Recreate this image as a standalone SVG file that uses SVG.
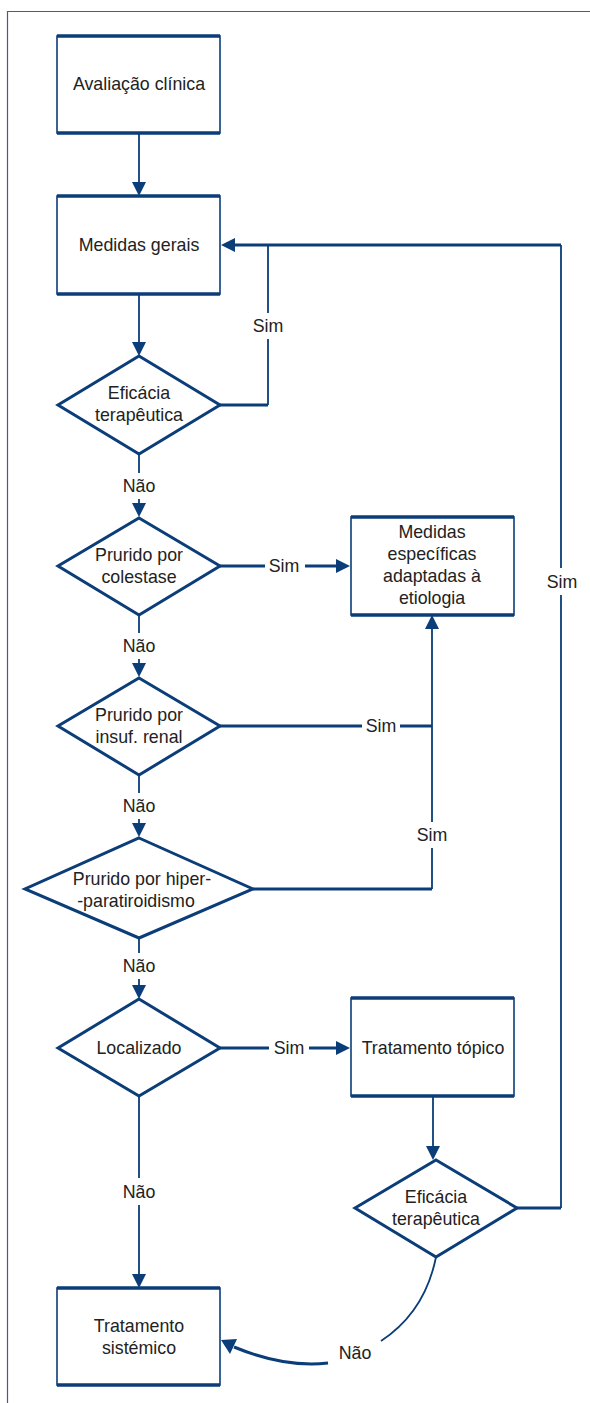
<svg xmlns="http://www.w3.org/2000/svg" width="590" height="1403" viewBox="0 0 590 1403">
<style>
text{font-family:"Liberation Sans",Arial,sans-serif;font-size:17.8px;fill:#222;text-anchor:middle}
.box{fill:#fff;stroke:#0b3d78;stroke-width:1.6}
.edge{stroke:#0b3d78;stroke-width:3.5}
.dia{fill:#fff;stroke:#0b3d78;stroke-width:3;stroke-linejoin:miter}
.thin{fill:none;stroke:#0b3d78;stroke-width:1.8}
.thick{fill:none;stroke:#0b3d78;stroke-width:3}
.ah{fill:#0b3d78}
</style>
<rect width="590" height="1403" fill="#fff"/>
<path d="M7.5,1403 V11.5 H590" fill="none" stroke="#4a5a80" stroke-width="1.2"/>
<g id="connectors">
<path class="thin" d="M139,133 V184"/>
<polygon class="ah" points="132,182 146,182 139,196"/>
<path class="thin" d="M139,294 V343"/>
<polygon class="ah" points="132,342 146,342 139,356"/>
<path class="thick" d="M220,405 H268"/>
<path class="thin" d="M268,405 V339 M268,313 V245"/>
<path class="thick" d="M234,245 H561"/>
<polygon class="ah" points="235,238 235,252 221,245"/>
<path class="thin" d="M139,454 V473 M139,499 V506"/>
<polygon class="ah" points="132,503 146,503 139,517"/>
<path class="thick" d="M220,566 H265 M305,566 H338"/>
<polygon class="ah" points="336,559 336,573 350,566"/>
<path class="thin" d="M139,615 V633 M139,659 V666"/>
<polygon class="ah" points="132,663 146,663 139,677"/>
<path class="thick" d="M220,726 H362 M400,726 H432"/>
<path class="thin" d="M432,629 V822 M432,848 V889"/>
<polygon class="ah" points="425,629 439,629 432,615"/>
<path class="thick" d="M253,889 H432"/>
<path class="thin" d="M139,775 V793 M139,819 V826"/>
<polygon class="ah" points="132,823 146,823 139,837"/>
<path class="thin" d="M139,938 V953 M139,979 V987"/>
<polygon class="ah" points="132,985 146,985 139,999"/>
<path class="thick" d="M220,1048 H269 M309,1048 H338"/>
<polygon class="ah" points="336,1041 336,1055 350,1048"/>
<path class="thin" d="M433,1096 V1148"/>
<polygon class="ah" points="426,1146 440,1146 433,1160"/>
<path class="thick" d="M517,1208 H561"/>
<path class="thin" d="M561,1208 V595 M561,568 V245"/>
<path class="thin" d="M139,1096 V1178 M139,1205 V1276"/>
<polygon class="ah" points="132,1274 146,1274 139,1288"/>
<path class="thin" d="M436,1257 Q425,1312 381,1341"/>
<path class="thick" d="M328,1363 Q285,1368 234,1347"/>
<polygon class="ah" points="221,1340 237,1339 230,1354"/>
<text x="268" y="332">Sim</text>
<text x="139" y="492">Não</text>
<text x="284" y="572">Sim</text>
<text x="139" y="652">Não</text>
<text x="381" y="732">Sim</text>
<text x="139" y="812">Não</text>
<text x="432" y="841">Sim</text>
<text x="139" y="972">Não</text>
<text x="289" y="1054">Sim</text>
<text x="562" y="588">Sim</text>
<text x="139" y="1198">Não</text>
<text x="355" y="1359">Não</text>
</g>
<g id="n1">
<rect class="box" x="57" y="36" width="163" height="97"/>
<path class="edge" d="M57,36 H220 M57,133 H220"/>
<text x="139" y="90">Avaliação clínica</text>
</g>
<g id="n2">
<rect class="box" x="57" y="196" width="163" height="98"/>
<path class="edge" d="M57,196 H220 M57,294 H220"/>
<text x="139" y="251">Medidas gerais</text>
</g>
<g id="n3">
<polygon class="dia" points="139,356 220,405 139,454 58,405"/>
<text x="139" y="399">Eficácia</text>
<text x="139" y="421">terapêutica</text>
</g>
<g id="n4">
<polygon class="dia" points="139,518 220,566 139,615 58,566"/>
<text x="139" y="561">Prurido por</text>
<text x="139" y="583">colestase</text>
</g>
<g id="n5">
<rect class="box" x="351" y="517" width="163" height="98"/>
<path class="edge" d="M351,517 H514 M351,615 H514"/>
<text x="432" y="538">Medidas</text>
<text x="432" y="560">específicas</text>
<text x="432" y="582">adaptadas à</text>
<text x="432" y="604">etiologia</text>
</g>
<g id="n6">
<polygon class="dia" points="139,678 220,726 139,775 58,726"/>
<text x="139" y="721">Prurido por</text>
<text x="139" y="743">insuf. renal</text>
</g>
<g id="n7">
<polygon class="dia" points="139,838 253,889 139,938 25,889"/>
<text x="142" y="885">Prurido por hiper-</text>
<text x="136" y="907">-paratiroidismo</text>
</g>
<g id="n8">
<polygon class="dia" points="139,999 220,1048 139,1096 58,1048"/>
<text x="139" y="1054">Localizado</text>
</g>
<g id="n9">
<rect class="box" x="351" y="998" width="163" height="98"/>
<path class="edge" d="M351,998 H514 M351,1096 H514"/>
<text x="433" y="1054">Tratamento tópico</text>
</g>
<g id="n10">
<polygon class="dia" points="436,1160 517,1208 436,1257 355,1208"/>
<text x="436" y="1203">Eficácia</text>
<text x="436" y="1225">terapêutica</text>
</g>
<g id="n11">
<rect class="box" x="57" y="1288" width="163" height="97"/>
<path class="edge" d="M57,1288 H220 M57,1385 H220"/>
<text x="139" y="1332">Tratamento</text>
<text x="139" y="1354">sistémico</text>
</g>
</svg>
